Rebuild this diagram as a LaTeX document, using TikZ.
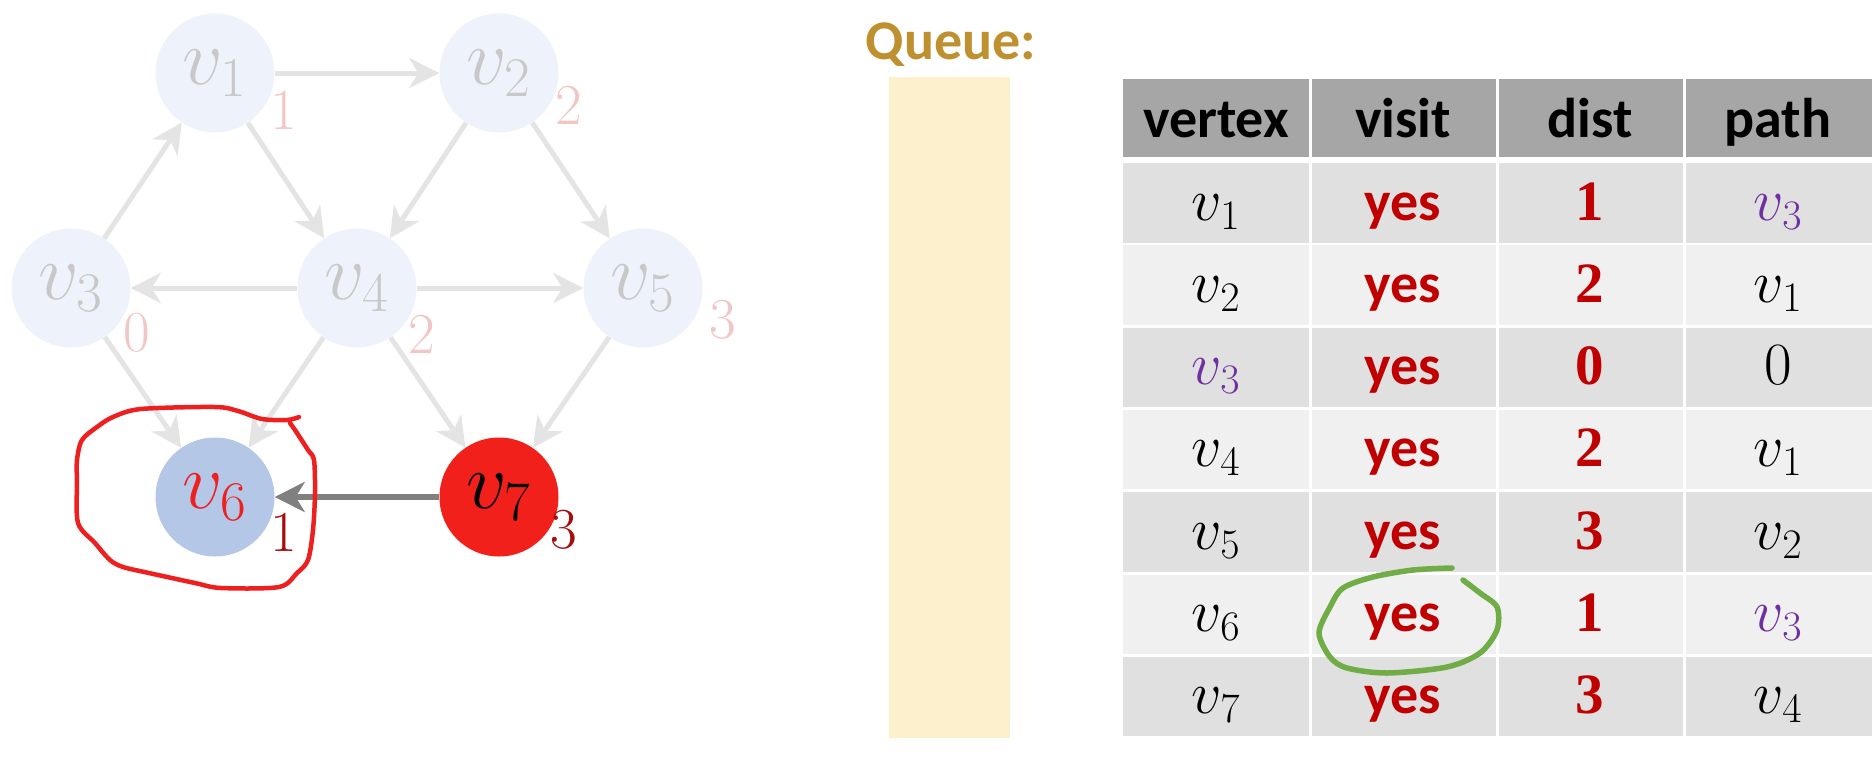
\RequirePackage{fix-cm}
\documentclass[tikz,border=0pt]{standalone}
\usepackage{fontspec}
\setmainfont{Carlito}
\newfontfamily\digitserif{Liberation Serif}
\usetikzlibrary{arrows.meta}
\definecolor{nodefill}{HTML}{EEF2FA}
\definecolor{nodetext}{HTML}{C8C8C8}
\definecolor{lightlab}{HTML}{F0C6C6}
\definecolor{edgegray}{HTML}{E4E4E4}
\definecolor{darkedge}{HTML}{808080}
\definecolor{vsixfill}{HTML}{B4C7E7}
\definecolor{vred}{HTML}{F2201A}
\definecolor{darkred}{HTML}{A80C0C}
\definecolor{yesred}{HTML}{C00000}
\definecolor{vpurple}{HTML}{7030A0}
\definecolor{queuegold}{HTML}{BF9030}
\definecolor{queuefill}{HTML}{FCF0CD}
\definecolor{headfill}{HTML}{A6A6A6}
\definecolor{rowdark}{HTML}{E0E0E0}
\definecolor{rowlight}{HTML}{F0F0F0}
\definecolor{loopred}{HTML}{EE1F1F}
\definecolor{loopgreen}{HTML}{70AD47}
\tikzset{
  gnode/.style={circle, minimum size=119pt, inner sep=0pt, fill=nodefill, text=nodetext, font=\fontsize{80}{82}\selectfont},
  glabel/.style={inner sep=0pt, text=lightlab, font=\fontsize{58}{60}\selectfont},
  hlabel/.style={inner sep=0pt, text=darkred, font=\fontsize{58}{60}\selectfont},
  gedge/.style={draw=edgegray, line width=5pt, -{Stealth[length=30pt,width=30pt,inset=9pt]}},
  hedge/.style={draw=darkedge, line width=6pt, -{Stealth[length=30pt,width=30pt,inset=9pt]}},
  headtxt/.style={anchor=base, inner sep=0pt, font=\fontsize{56}{60}\selectfont\bfseries},
  celltxt/.style={anchor=base, inner sep=0pt, font=\fontsize{60}{62}\selectfont},
  yestxt/.style={anchor=base, inner sep=0pt, text=yesred, font=\fontsize{56}{60}\selectfont\bfseries},
  disttxt/.style={anchor=base, inner sep=0pt, text=yesred, font=\fontsize{57}{60}\digitserif\bfseries},
}
\begin{document}
\begin{tikzpicture}[x=1pt,y=-1pt]
\useasboundingbox (0,0) rectangle (1872,758);
% ---------- graph ----------
\node[gnode] (v1) at (215,73) {$v_1$};
\node[gnode] (v2) at (499,73) {$v_2$};
\node[gnode] (v3) at (71,288) {$v_3$};
\node[gnode] (v4) at (357,288) {$v_4$};
\node[gnode] (v5) at (643,288) {$v_5$};
\node[gnode, fill=vsixfill, text=loopred] (v6) at (215,497) {$v_6$};
\node[gnode, fill=vred, text=black] (v7) at (499,497) {$v_7$};
\node[glabel] (d1) at (284,111) {$1$};
\node[glabel] (d2) at (569,106) {$2$};
\node[glabel] (d3) at (137,333) {$0$};
\node[glabel] (d4) at (422,335) {$2$};
\node[glabel] (d5) at (723,320) {$3$};
\node[hlabel] (d6) at (284,533) {$1$};
\node[hlabel] (d7) at (564,530) {$3$};
\draw[gedge] (v1) -- (v2);
\draw[gedge] (v3) -- (v1);
\draw[gedge] (v1) -- (v4);
\draw[gedge] (v2) -- (v4);
\draw[gedge] (v2) -- (v5);
\draw[gedge] (v4) -- (v3);
\draw[gedge] (v4) -- (v5);
\draw[gedge] (v3) -- (v6);
\draw[gedge] (v4) -- (v6);
\draw[gedge] (v4) -- (v7);
\draw[gedge] (v5) -- (v7);
\draw[hedge] (v7) -- (v6);
\draw[loopred, line width=4.5pt, line cap=round, line join=round] plot[smooth, tension=0.5] coordinates {
 (299,417) (287,420) (262,419) (238,411) (215,407) (141,409) (113,417) (97,427)
 (82,440) (77,460) (77,482) (78,523) (95,543) (110,560) (123,567) (149,573)
 (195,583) (221,588) (279,587) (297,573) (308,560) (313,530) (315,493) (314,460)
 (308,450) (295,430) (290,423)};
% ---------- queue ----------
\node[anchor=base, inner sep=0pt, text=queuegold, font=\fontsize{56}{60}\selectfont\bfseries] (qlabel) at (951,59) {Queue:};
\fill[queuefill] (889,77) rectangle (1010,738);
% ---------- table ----------
\fill[headfill] (1123,79) rectangle (1872,157);
\foreach \i/\c in {1/rowdark,2/rowlight,3/rowdark,4/rowlight,5/rowdark,6/rowlight,7/rowdark}{
  \fill[\c] (1123,{163+82.3*(\i-1)}) rectangle (1872,{163+82.3*(\i-1)+79.5});
}
\foreach \x in {1310,1497,1684}{
  \fill[white] (\x-1.5,79) rectangle (\x+1.5,740);
}
\node[headtxt] (h1) at (1216,137) {vertex};
\node[headtxt] (h2) at (1403,137) {visit};
\node[headtxt] (h3) at (1590,137) {dist};
\node[headtxt] (h4) at (1778,137) {path};
% rows (baseline = row top + 57)
\node[celltxt] (a1) at (1216,220) {$v_1$};
\node[yestxt] (b1) at (1403,220) {yes};
\node[disttxt] (c1) at (1590,220) {1};
\node[celltxt, text=vpurple] (e1) at (1778,220) {$v_3$};
\node[celltxt] (a2) at (1216,302.3) {$v_2$};
\node[yestxt] (b2) at (1403,302.3) {yes};
\node[disttxt] (c2) at (1590,302.3) {2};
\node[celltxt] (e2) at (1778,302.3) {$v_1$};
\node[celltxt, text=vpurple] (a3) at (1216,384.6) {$v_3$};
\node[yestxt] (b3) at (1403,384.6) {yes};
\node[disttxt] (c3) at (1590,384.6) {0};
\node[celltxt] (e3) at (1778,384.6) {$0$};
\node[celltxt] (a4) at (1216,466.9) {$v_4$};
\node[yestxt] (b4) at (1403,466.9) {yes};
\node[disttxt] (c4) at (1590,466.9) {2};
\node[celltxt] (e4) at (1778,466.9) {$v_1$};
\node[celltxt] (a5) at (1216,549.2) {$v_5$};
\node[yestxt] (b5) at (1403,549.2) {yes};
\node[disttxt] (c5) at (1590,549.2) {3};
\node[celltxt] (e5) at (1778,549.2) {$v_2$};
\node[celltxt] (a6) at (1216,631.5) {$v_6$};
\node[yestxt] (b6) at (1403,631.5) {yes};
\node[disttxt] (c6) at (1590,631.5) {1};
\node[celltxt, text=vpurple] (e6) at (1778,631.5) {$v_3$};
\node[celltxt] (a7) at (1216,713.8) {$v_7$};
\node[yestxt] (b7) at (1403,713.8) {yes};
\node[disttxt] (c7) at (1590,713.8) {3};
\node[celltxt] (e7) at (1778,713.8) {$v_4$};
\draw[loopgreen, line width=5.5pt, line cap=round, line join=round] plot[smooth, tension=0.5] coordinates {
 (1452,568) (1413,570) (1373,577) (1343,588) (1330,607) (1319,633) (1330,657)
 (1347,668) (1387,673) (1447,667) (1480,653) (1497,630) (1497,607) (1480,593) (1463,580)};
\end{tikzpicture}
\end{document}
